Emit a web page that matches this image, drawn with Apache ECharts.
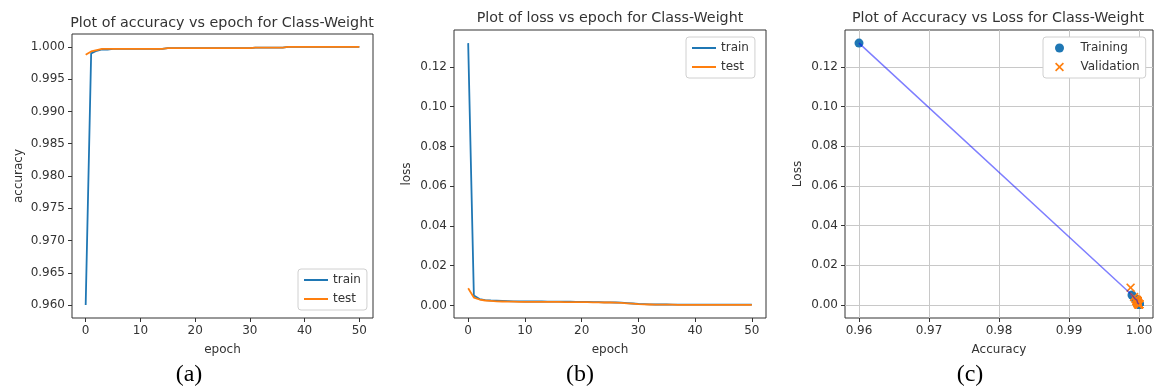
<!DOCTYPE html>
<html>
<head>
<meta charset="utf-8">
<script src="https://cdn.jsdelivr.net/npm/echarts@6/dist/echarts.min.js"></script>
<style>
html,body{margin:0;padding:0;background:#fff;}
#main{width:1154px;height:391px;}
</style>
</head>
<body>
<div id="main"></div>
<script>
// ---- data ----
const epochs = Array.from({length: 51}, (_, i) => i);
const trainAcc = [0.9600, 0.9990, 0.9994, 0.9996, 0.9996, 0.9997, 0.9997, 0.9997, 0.9997, 0.9997,
  0.9997, 0.9997, 0.9997, 0.9997, 0.9997, 0.9998, 0.9998, 0.9998, 0.9998, 0.9998,
  0.9998, 0.9998, 0.9998, 0.9998, 0.9998, 0.9998, 0.9998, 0.9998, 0.9998, 0.9998,
  0.9998, 0.9999, 0.9999, 0.9999, 0.9999, 0.9999, 0.9999, 1.0000, 1.0000, 1.0000,
  1.0000, 1.0000, 1.0000, 1.0000, 1.0000, 1.0000, 1.0000, 1.0000, 1.0000, 1.0000, 1.0000];
const testAcc = [0.9988, 0.9993, 0.9995, 0.9997, 0.9997, 0.9997, 0.9997, 0.9997, 0.9997, 0.9997,
  0.9997, 0.9997, 0.9997, 0.9997, 0.9997, 0.9998, 0.9998, 0.9998, 0.9998, 0.9998,
  0.9998, 0.9998, 0.9998, 0.9998, 0.9998, 0.9998, 0.9998, 0.9998, 0.9998, 0.9998,
  0.9998, 0.9999, 0.9999, 0.9999, 0.9999, 0.9999, 0.9999, 1.0000, 1.0000, 1.0000,
  1.0000, 1.0000, 1.0000, 1.0000, 1.0000, 1.0000, 1.0000, 1.0000, 1.0000, 1.0000, 1.0000];
const trainLoss = [0.1320, 0.0050, 0.0032, 0.0027, 0.0025, 0.0024, 0.0023, 0.0022, 0.0021, 0.0021,
  0.0020, 0.0020, 0.0020, 0.0020, 0.0019, 0.0019, 0.0019, 0.0019, 0.0019, 0.0018,
  0.0018, 0.0018, 0.0017, 0.0017, 0.0016, 0.0016, 0.0015, 0.0014, 0.0012, 0.0010,
  0.0008, 0.0007, 0.0006, 0.0005, 0.0005, 0.0005, 0.0004, 0.0004, 0.0004, 0.0004,
  0.0004, 0.0004, 0.0004, 0.0004, 0.0004, 0.0004, 0.0004, 0.0004, 0.0004, 0.0004, 0.0004];
const testLoss = [0.0087, 0.0040, 0.0030, 0.0025, 0.0023, 0.0021, 0.0020, 0.0019, 0.0019, 0.0018,
  0.0018, 0.0018, 0.0018, 0.0018, 0.0018, 0.0018, 0.0018, 0.0017, 0.0017, 0.0017,
  0.0017, 0.0017, 0.0016, 0.0016, 0.0015, 0.0015, 0.0014, 0.0013, 0.0011, 0.0009,
  0.0007, 0.0006, 0.0005, 0.0004, 0.0004, 0.0004, 0.0004, 0.0003, 0.0003, 0.0003,
  0.0003, 0.0003, 0.0003, 0.0003, 0.0003, 0.0003, 0.0003, 0.0003, 0.0003, 0.0003, 0.0003];

const epochTicks = [0, 10, 20, 30, 40, 50];
const accTicks = [0.960, 0.965, 0.970, 0.975, 0.980, 0.985, 0.990, 0.995, 1.000];
const lossTicks = [0, 0.02, 0.04, 0.06, 0.08, 0.10, 0.12];
const accTicksC = [0.96, 0.97, 0.98, 0.99, 1.00];

const titles = ['Plot of accuracy vs epoch for Class-Weight', 'Plot of loss vs epoch for Class-Weight', 'Plot of Accuracy vs Loss for Class-Weight'];
const captions = ['(a)', '(b)', '(c)'];

// ---- chart ----
const BLUE = '#1f77b4', ORANGE = '#ff7f0e', TXT = '#333333';
const FONT = 'DejaVu Sans';
const xMark = 'path://M0,1.3L1.3,0L5,3.7L8.7,0L10,1.3L6.3,5L10,8.7L8.7,10L5,6.3L1.3,10L0,8.7L3.7,5Z';

function axis(gridIndex, min, max, ticks, digits, name, gap, grid) {
  return {
    type: 'value', gridIndex, min, max, name, nameLocation: 'middle', nameGap: gap,
    nameTextStyle: {color: TXT, fontFamily: FONT, fontSize: 12},
    axisLine: {show: false, onZero: false},
    axisTick: {show: true, inside: false, length: 4, customValues: ticks, lineStyle: {color: TXT, width: 1}},
    axisLabel: {show: true, customValues: ticks, margin: 7, color: TXT, fontFamily: FONT, fontSize: 12,
      formatter: v => Number(v).toFixed(digits)},
    splitLine: {show: !!grid, customValues: ticks, lineStyle: {color: '#c8c8c8', width: 1}}
  };
}

const zipPts = (a, b) => a.map((v, i) => [v, b[i]]);
const tStyle = {fontFamily: FONT, fontSize: 14.3, fontWeight: 'normal', color: TXT};
const cStyle = {fontFamily: 'Liberation Serif', fontSize: 24, fontWeight: 'normal', color: '#000'};

const option = {
  animation: false,
  backgroundColor: '#fff',
  title: [
    {text: titles[0], left: 222, top: 16, padding: 0, textAlign: 'center', textStyle: tStyle},
    {text: titles[1], left: 610, top: 11, padding: 0, textAlign: 'center', textStyle: tStyle},
    {text: titles[2], left: 998, top: 11, padding: 0, textAlign: 'center', textStyle: tStyle},
    {text: captions[0], left: 189, top: 363, padding: 0, textAlign: 'center', textStyle: cStyle},
    {text: captions[1], left: 580, top: 363, padding: 0, textAlign: 'center', textStyle: cStyle},
    {text: captions[2], left: 970, top: 363, padding: 0, textAlign: 'center', textStyle: cStyle}
  ],
  grid: [
    {left: 72, top: 34, width: 301, height: 284, show: true, borderColor: TXT, borderWidth: 1, containLabel: false, outerBoundsMode: 'none'},
    {left: 454, top: 30, width: 312, height: 288, show: true, borderColor: TXT, borderWidth: 1, containLabel: false, outerBoundsMode: 'none'},
    {left: 845, top: 30, width: 308, height: 288, show: true, borderColor: TXT, borderWidth: 1, containLabel: false, outerBoundsMode: 'none'}
  ],
  xAxis: [
    axis(0, -2.5, 52.5, epochTicks, 0, 'epoch', 26),
    axis(1, -2.5, 52.5, epochTicks, 0, 'epoch', 26),
    axis(2, 0.958, 1.002, accTicksC, 2, 'Accuracy', 26, true)
  ],
  yAxis: [
    axis(0, 0.958, 1.002, accTicks, 3, 'accuracy', 47),
    axis(1, -0.0063, 0.1386, lossTicks, 2, 'loss', 41),
    axis(2, -0.0066, 0.1386, lossTicks, 2, 'Loss', 41, true)
  ],
  legend: [
    {data: ['train', 'test'].map(n => ({name: n})), orient: 'vertical', left: 298, top: 269,
     padding: [5, 6, 5, 6], itemGap: 7, itemWidth: 24, itemHeight: 2, icon: 'rect',
     backgroundColor: '#fff', borderColor: '#d0d0d0', borderWidth: 1, borderRadius: 3,
     textStyle: {fontFamily: FONT, fontSize: 12, color: TXT}},
    {data: ['train ', 'test '].map(n => ({name: n})), orient: 'vertical', left: 686, top: 37,
     padding: [5, 6, 5, 6], itemGap: 7, itemWidth: 24, itemHeight: 2, icon: 'rect',
     backgroundColor: '#fff', borderColor: '#d0d0d0', borderWidth: 1, borderRadius: 3,
     formatter: n => n.trim(),
     textStyle: {fontFamily: FONT, fontSize: 12, color: TXT}},
    {data: [{name: 'Training', icon: 'circle'}, {name: 'Validation', icon: xMark}], orient: 'vertical', left: 1043, top: 37,
     padding: [5, 6, 5, 12], itemGap: 7, itemWidth: 9, itemHeight: 9,
     backgroundColor: '#fff', borderColor: '#d0d0d0', borderWidth: 1, borderRadius: 3,
     formatter: n => '   ' + n,
     textStyle: {fontFamily: FONT, fontSize: 12, color: TXT}}
  ],
  series: [
    {name: 'train', type: 'line', xAxisIndex: 0, yAxisIndex: 0, data: zipPts(epochs, trainAcc), symbol: 'none', color: BLUE, lineStyle: {width: 1.8}},
    {name: 'test', type: 'line', xAxisIndex: 0, yAxisIndex: 0, data: zipPts(epochs, testAcc), symbol: 'none', color: ORANGE, lineStyle: {width: 1.8}},
    {name: 'train ', type: 'line', xAxisIndex: 1, yAxisIndex: 1, data: zipPts(epochs, trainLoss), symbol: 'none', color: BLUE, lineStyle: {width: 1.8}},
    {name: 'test ', type: 'line', xAxisIndex: 1, yAxisIndex: 1, data: zipPts(epochs, testLoss), symbol: 'none', color: ORANGE, lineStyle: {width: 1.8}},
    {name: 'Training', type: 'scatter', xAxisIndex: 2, yAxisIndex: 2, data: zipPts(trainAcc, trainLoss), symbol: 'circle', symbolSize: 9, color: BLUE, itemStyle: {opacity: 1}},
    {name: 'Validation', type: 'scatter', xAxisIndex: 2, yAxisIndex: 2, data: zipPts(testAcc, testLoss), symbol: xMark, symbolSize: 9, color: ORANGE, itemStyle: {opacity: 1}},
    {name: 'trainLine', type: 'line', xAxisIndex: 2, yAxisIndex: 2, data: zipPts(trainAcc, trainLoss), symbol: 'none', color: 'rgba(0,0,255,0.5)', lineStyle: {width: 1.5}, z: 3}
  ]
};

const chart = echarts.init(document.getElementById('main'), null, {renderer: 'canvas'});
chart.setOption(option);
</script>
</body>
</html>
